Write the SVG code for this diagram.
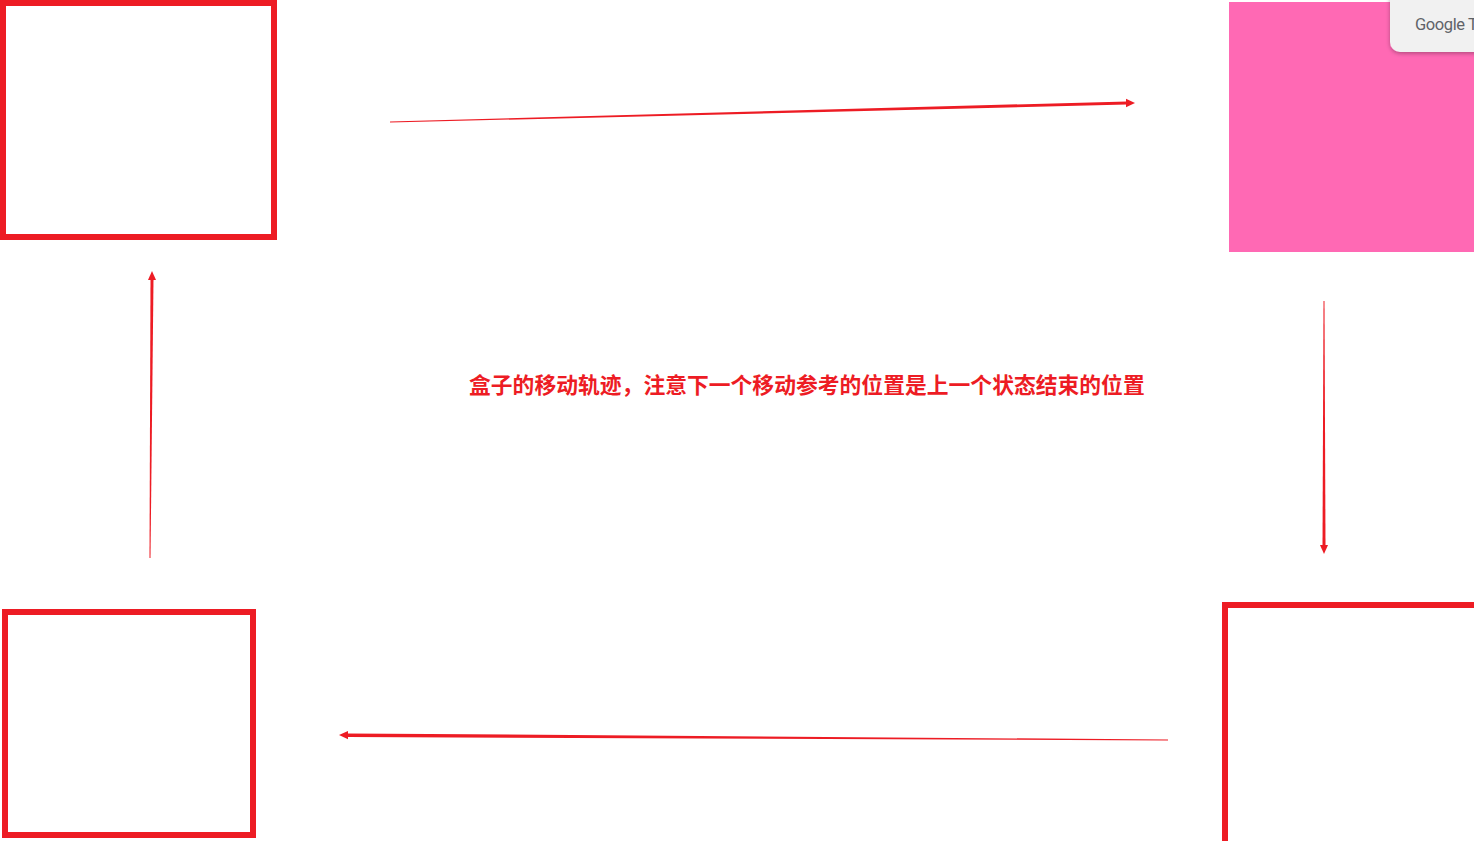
<svg xmlns="http://www.w3.org/2000/svg" width="1474" height="841" viewBox="0 0 1474 841">
  <defs>
    <style>
      .box { fill: #ffffff; stroke: #ed1c24; stroke-width: 6; }
      .arr { fill: #ed1c24; stroke: none; }
      .label { font-family: "Noto Sans CJK SC", "Liberation Sans", sans-serif; font-weight: bold; font-size: 21.8px; fill: #ed1c24; }
      .gt { font-family: Roboto, "Liberation Sans", sans-serif; font-size: 16.5px; fill: #5f6368; letter-spacing: -0.4px; }
    </style>
    <filter id="shadow" x="-20%" y="-50%" width="140%" height="200%">
      <feDropShadow dx="0" dy="1.5" stdDeviation="2" flood-color="#000000" flood-opacity="0.3"/>
    </filter>
  </defs>
  <rect width="1474" height="841" fill="#ffffff"/>

  <g id="box-top-left">
    <rect class="box" x="3" y="3" width="271" height="234"/>
  </g>
  <g id="box-top-right">
    <rect x="1229" y="2" width="245" height="250" fill="#ff69b4"/>
  </g>
  <g id="box-bottom-right">
    <rect class="box" x="1225" y="605" width="260" height="245"/>
  </g>
  <g id="box-bottom-left">
    <rect class="box" x="5" y="612" width="248" height="223"/>
  </g>

  <g id="label">
    <text class="label" x="469" y="393">盒子的移动轨迹，注意下一个移动参考的位置是上一个状态结束的位置</text>
  </g>

  <g id="connectors">
    <polygon class="arr" points="390,121.5 1127,101.4 1127,104.6 390,122.5"/>
    <polygon class="arr" points="1135,103 1126,98.8 1126,107.2"/>
    <polygon class="arr" points="1323.5,301 1324.5,301 1325.5,546 1322.5,546"/>
    <polygon class="arr" points="1324,554 1320,545 1328,545"/>
    <polygon class="arr" points="1168,739.5 1168,740.5 347,737 347,733.4"/>
    <polygon class="arr" points="339,735 348,731 348,739.2"/>
    <polygon class="arr" points="149.5,558 150.5,558 153.5,279 150.5,279"/>
    <polygon class="arr" points="152,271 148,280 156,280"/>
  </g>

  <g id="google-translate-badge">
    <rect x="1390" y="-12" width="110" height="64" rx="10" fill="#f1f1f1" filter="url(#shadow)"/>
    <text class="gt" x="1415" y="30">Google T</text>
  </g>
</svg>
